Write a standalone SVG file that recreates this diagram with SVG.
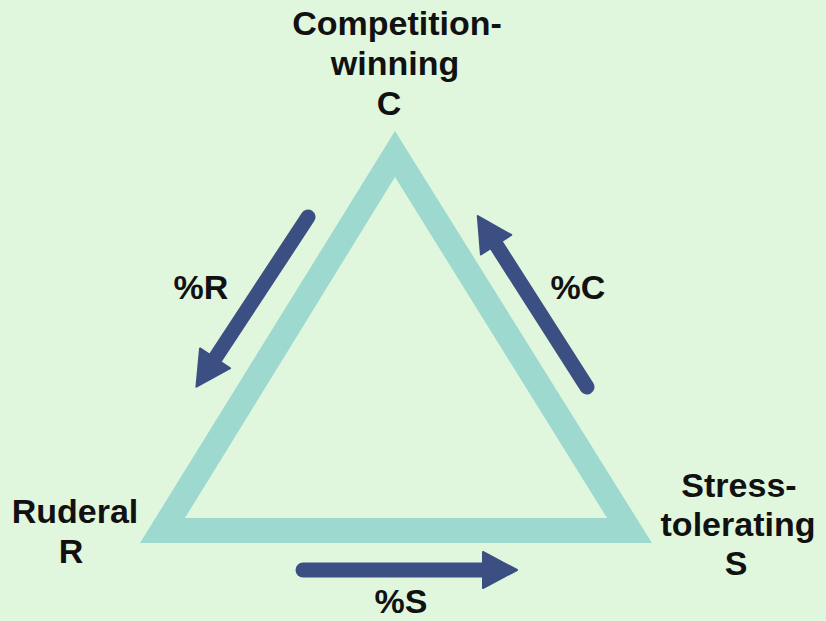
<svg xmlns="http://www.w3.org/2000/svg" width="826" height="621" viewBox="0 0 826 621">
<defs>
<style>
.lbl{font-family:"Liberation Sans",Arial,sans-serif;font-weight:bold;font-size:34px;fill:#111;text-anchor:middle}
.arr{stroke:#3b4f82;stroke-width:15;stroke-linecap:round;fill:none}
</style>
<marker id="head" markerUnits="userSpaceOnUse" markerWidth="40" markerHeight="40" viewBox="0 -20 36 40" refX="2" refY="0" orient="auto">
<path d="M0,-18 L34,0 L0,18 Z" fill="#3b4f82" stroke="#3b4f82" stroke-width="2" stroke-linejoin="round"/>
</marker>
</defs>
<rect width="826" height="621" fill="#e0f7de"/>
<g id="triangle">
<path d="M395,131 L140,543 L652,543 Z M395,177 L607,518 L185,518 Z" fill="#9dd9cf" fill-rule="evenodd"/>
</g>
<g id="connectors">
<path class="arr" d="M308,217 L214,360" marker-end="url(#head)"/>
<path class="arr" d="M587,387 L495,243" marker-end="url(#head)"/>
<path class="arr" d="M303,570 L485,570" marker-end="url(#head)"/>
</g>
<g id="node-C">
<text class="lbl" x="397" y="35">Competition-</text>
<text class="lbl" x="395" y="75">winning</text>
<text class="lbl" x="389" y="115">C</text>
</g>
<g id="node-R">
<text class="lbl" x="75" y="523">Ruderal</text>
<text class="lbl" x="71" y="563">R</text>
</g>
<g id="node-S">
<text class="lbl" x="739" y="497">Stress-</text>
<text class="lbl" x="738" y="536">tolerating</text>
<text class="lbl" x="736" y="575">S</text>
</g>
<g id="labels">
<text class="lbl" x="201" y="299">%R</text>
<text class="lbl" x="578" y="299">%C</text>
<text class="lbl" x="401" y="613">%S</text>
</g>
</svg>
